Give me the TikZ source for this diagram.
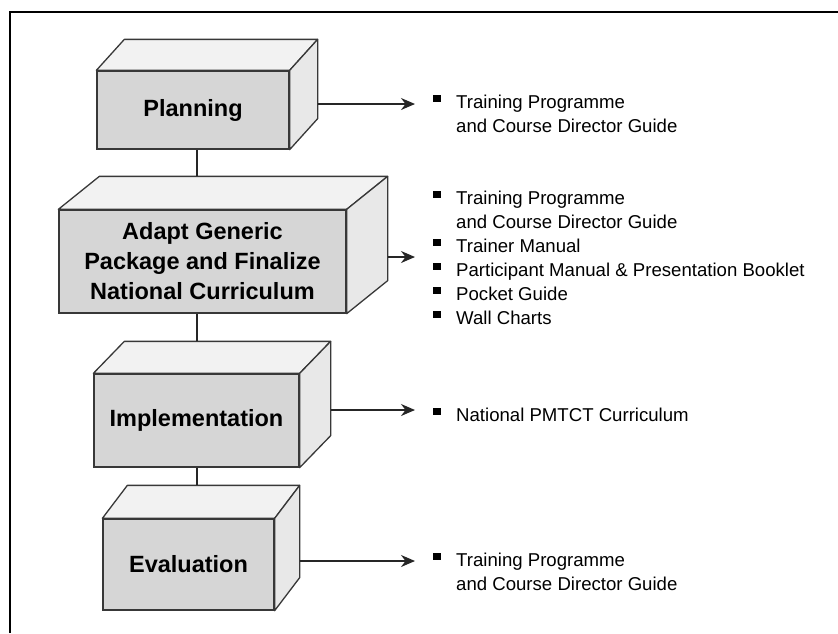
\documentclass[tikz,border=0pt]{standalone}
\usepackage{fontspec}
\setmainfont{Liberation Sans}
\usetikzlibrary{calc,arrows.meta}

\newcommand{\sqbullet}{\rule[6pt]{8pt}{7pt}}

\begin{document}
\begin{tikzpicture}[x=1pt,y=-1pt]
\tikzset{stage/.style={draw=black!78, fill=black!16, line width=1.3pt, align=center, font=\bfseries\fontsize{23.5}{30}\selectfont},
  topface/.style={draw=black!78, fill=black!5, line width=1.3pt, line join=round},
  sideface/.style={draw=black!78, fill=black!9, line width=1.3pt, line join=round},
  outputs/.style={anchor=base west, inner sep=0pt, font=\fontsize{18.6}{24}\selectfont},
  link/.style={draw=black!85, line width=1.5pt},
  feed/.style={link, -{Stealth[length=14pt,width=12pt]}, shorten >=18pt}}
\useasboundingbox (0,0) rectangle (838,633);
\draw[line width=2pt] (10,633) -- (10,12) -- (838,12);
\coordinate (spine) at (197,0);

\node[stage, minimum width=192pt, minimum height=78pt] (plan) at (193,110) {Planning};
\node[stage, minimum width=287pt, minimum height=103pt] (adapt) at (202.5,261.5) {Adapt Generic\\Package and Finalize\\National Curriculum};
\node[stage, minimum width=205pt, minimum height=93pt] (impl) at (196.5,420.5) {Implementation};
\node[stage, minimum width=171pt, minimum height=91pt] (eval) at (188.5,564.5) {Evaluation};

% top and right faces of the blocks
\foreach \n/\dx/\dy/\ay in {plan/28/31/6, adapt/41/33/4.5, impl/31/32/10.5, eval/25/33/3.5} {
  \draw[topface] (\n.north west) -- ++(\dx,-\dy) -- ($(\n.north east)+(\dx,-\dy)$) -- (\n.north east) -- cycle;
  \draw[sideface] (\n.north east) -- ++(\dx,-\dy) -- ($(\n.south east)+(\dx,-\dy)$) -- (\n.south east) -- cycle;
  \coordinate (\n-back) at ($(\n.north)+(\dx,-\dy)$);
  \coordinate (\n-out) at ($(\n.east)+(\dx,-\ay)$);
}

\draw[link] (plan.south -| spine) -- (adapt-back -| spine);
\draw[link] (adapt.south -| spine) -- (impl-back -| spine);
\draw[link] (impl.south -| spine) -- (eval-back -| spine);

\node[outputs] (planlist) at (433,108) {\begin{tabular}[t]{@{}l@{\hspace{15pt}}l@{}}
\sqbullet & Training Programme\\
 & and Course Director Guide
\end{tabular}};
\node[outputs] (adaptlist) at (433,204) {\begin{tabular}[t]{@{}l@{\hspace{15pt}}l@{}}
\sqbullet & Training Programme\\
 & and Course Director Guide\\
\sqbullet & Trainer Manual\\
\sqbullet & Participant Manual \& Presentation Booklet\\
\sqbullet & Pocket Guide\\
\sqbullet & Wall Charts
\end{tabular}};
\node[outputs] (impllist) at (433,421) {\begin{tabular}[t]{@{}l@{\hspace{15pt}}l@{}}
\sqbullet & National PMTCT Curriculum
\end{tabular}};
\node[outputs] (evallist) at (433,566) {\begin{tabular}[t]{@{}l@{\hspace{15pt}}l@{}}
\sqbullet & Training Programme\\
 & and Course Director Guide
\end{tabular}};

\draw[feed] (plan-out) -- (plan-out -| planlist.west);
\draw[feed] (adapt-out) -- (adapt-out -| adaptlist.west);
\draw[feed] (impl-out) -- (impl-out -| impllist.west);
\draw[feed] (eval-out) -- (eval-out -| evallist.west);
\end{tikzpicture}
\end{document}
